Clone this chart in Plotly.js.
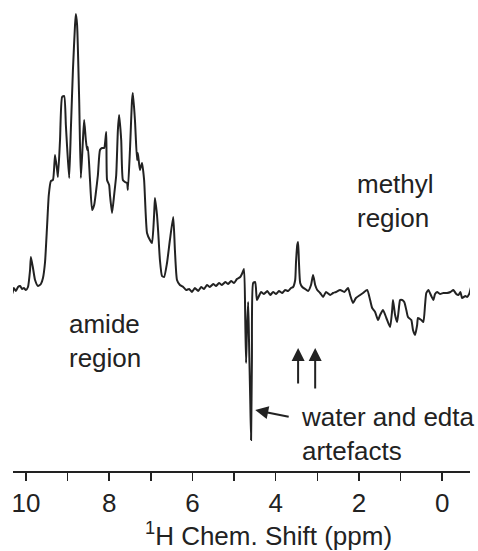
<!DOCTYPE html>
<html>
<head>
<meta charset="utf-8">
<script src="https://cdn.plot.ly/plotly-3.0.1.min.js"></script>
<style>html,body{margin:0;padding:0;background:#fff;}#chart{width:478px;height:551px;}</style>
</head>
<body>
<div id="chart"></div>
<script>
// 1H NMR spectrum: chemical shift (ppm) and intensity (arbitrary units)
var shiftPpm = [10.38,10.33,10.29,10.24,10.19,10.14,10.09,10.05,10.00,9.95,9.90,9.88,9.83,9.78,9.71,9.64,9.59,9.54,9.49,9.45,9.40,9.35,9.30,9.25,9.23,9.18,9.13,9.08,9.04,9.01,8.96,8.92,8.87,8.82,8.80,8.77,8.72,8.68,8.63,8.60,8.56,8.53,8.51,8.46,8.41,8.36,8.32,8.27,8.22,8.17,8.12,8.07,8.05,8.00,7.98,7.93,7.88,7.83,7.79,7.76,7.71,7.67,7.62,7.57,7.55,7.50,7.45,7.43,7.38,7.33,7.31,7.26,7.21,7.16,7.09,7.02,6.97,6.92,6.90,6.85,6.82,6.78,6.73,6.68,6.61,6.54,6.46,6.42,6.37,6.30,6.22,6.15,6.08,6.01,5.94,5.86,5.79,5.72,5.65,5.58,5.50,5.43,5.36,5.29,5.21,5.14,5.07,5.00,4.93,4.85,4.81,4.76,4.73,4.71,4.69,4.66,4.64,4.61,4.59,4.57,4.54,4.49,4.45,4.40,4.35,4.28,4.20,4.13,4.06,3.99,3.92,3.84,3.77,3.70,3.63,3.58,3.53,3.51,3.48,3.46,3.44,3.41,3.36,3.29,3.22,3.15,3.10,3.05,3.00,2.93,2.86,2.79,2.69,2.62,2.55,2.45,2.35,2.26,2.21,2.14,2.07,1.97,1.90,1.80,1.73,1.68,1.61,1.54,1.49,1.42,1.34,1.25,1.20,1.18,1.13,1.08,1.03,1.01,0.96,0.91,0.86,0.82,0.74,0.70,0.65,0.60,0.58,0.50,0.45,0.41,0.38,0.33,0.26,0.21,0.17,0.12,0.05,-0.03,-0.12,-0.20,-0.27,-0.34,-0.39,-0.44,-0.48,-0.56,-0.60,-0.65,-0.70];
var intensity = [0,-4,2,-1,3,4,1,2,0,3,20,33,22,10,4,6,12,28,65,95,109,110,135,120,113,150,193,194,165,143,112,160,220,265,276,265,190,112,150,170,150,140,143,110,80,85,97,115,140,142,142,158,110,105,95,77,95,115,160,175,150,110,108,107,100,140,190,197,170,130,137,120,127,110,57,50,47,75,92,75,57,30,14,13,27,50,73,40,10,5,3,0,1,-2,2,-1,3,1,5,3,6,4,7,5,8,6,9,7,11,13,16,21,-30,-73,-40,-12,-50,-110,-150,-70,7,8,-10,-6,-2,-4,-1,-5,-2,-4,-1,-3,0,-1,2,3,10,28,45,48,28,7,3,1,-1,5,15,5,0,-3,-7,-2,-5,-3,-2,0,-2,2,-5,-13,-8,-5,-3,0,-10,-18,-22,-30,-25,-20,-28,-37,-20,-10,-25,-32,-15,-10,-10,-12,-20,-27,-30,-40,-45,-35,-28,-30,-32,-15,-3,0,-6,-10,-4,-2,-4,-3,-3,-2,0,-4,-5,-2,-8,-6,-7,-4,4];
var tickValues = [10,9,8,7,6,5,4,3,2,1,0];
var tickLabels = ["10","","8","","6","","4","","2","","0"];
var xTitle = "<sup>1</sup>H Chem. Shift (ppm)";

var FONT = "Liberation Sans, Arial, Helvetica, sans-serif";
var INK = "#222222";

var trace = {
  x: shiftPpm, y: intensity, type: "scatter", mode: "lines",
  line: {color: INK, width: 2, shape: "spline", smoothing: 0.5}, hoverinfo: "skip", showlegend: false
};

var layout = {
  width: 478, height: 551,
  margin: {l: 13, r: 8, t: 10, b: 80},
  paper_bgcolor: "#ffffff", plot_bgcolor: "#ffffff",
  showlegend: false,
  font: {family: FONT, color: INK, size: 26},
  xaxis: {
    range: [10.31, -0.67], autorange: false,
    showgrid: false, zeroline: false,
    showline: true, linecolor: INK, linewidth: 2,
    ticks: "outside", ticklen: 8, tickwidth: 1.5, tickcolor: INK,
    tickmode: "array", tickvals: tickValues, ticktext: tickLabels,
    tickfont: {family: FONT, size: 26, color: INK}
  },
  yaxis: {visible: false, range: [-181, 280], autorange: false, showgrid: false, zeroline: false},
  annotations: [
    {xref: "paper", yref: "paper", x: 0.558, y: -0.138, xanchor: "center", yanchor: "middle",
     text: xTitle, showarrow: false, font: {family: FONT, size: 26, color: INK}},
    {xref: "x", yref: "y", x: 2.09, y: 89, xanchor: "left", yanchor: "middle", align: "left",
     text: "methyl<br>region", showarrow: false, font: {family: FONT, size: 26, color: INK}},
    {xref: "x", yref: "y", x: 9.01, y: -51, xanchor: "left", yanchor: "middle", align: "left",
     text: "amide<br>region", showarrow: false, font: {family: FONT, size: 26, color: INK}},
    {xref: "x", yref: "y", x: 3.435, y: -144, xanchor: "left", yanchor: "middle", align: "left",
     text: "water and edta<br>artefacts", showarrow: false, font: {family: FONT, size: 26, color: INK}},
    {xref: "x", yref: "y", axref: "x", ayref: "y", x: 3.46, y: -58, ax: 3.46, ay: -95,
     text: "", showarrow: true, arrowhead: 2, arrowsize: 1.3, arrowwidth: 2, arrowcolor: INK, standoff: 0},
    {xref: "x", yref: "y", axref: "x", ayref: "y", x: 3.05, y: -58, ax: 3.05, ay: -100,
     text: "", showarrow: true, arrowhead: 2, arrowsize: 1.3, arrowwidth: 2, arrowcolor: INK, standoff: 0},
    {xref: "x", yref: "y", axref: "x", ayref: "y", x: 4.49, y: -120, ax: 3.65, ay: -127,
     text: "", showarrow: true, arrowhead: 2, arrowsize: 1.3, arrowwidth: 2, arrowcolor: INK, standoff: 0}
  ]
};

Plotly.newPlot("chart", [trace], layout, {displayModeBar: false, staticPlot: true});
</script>
</body>
</html>
